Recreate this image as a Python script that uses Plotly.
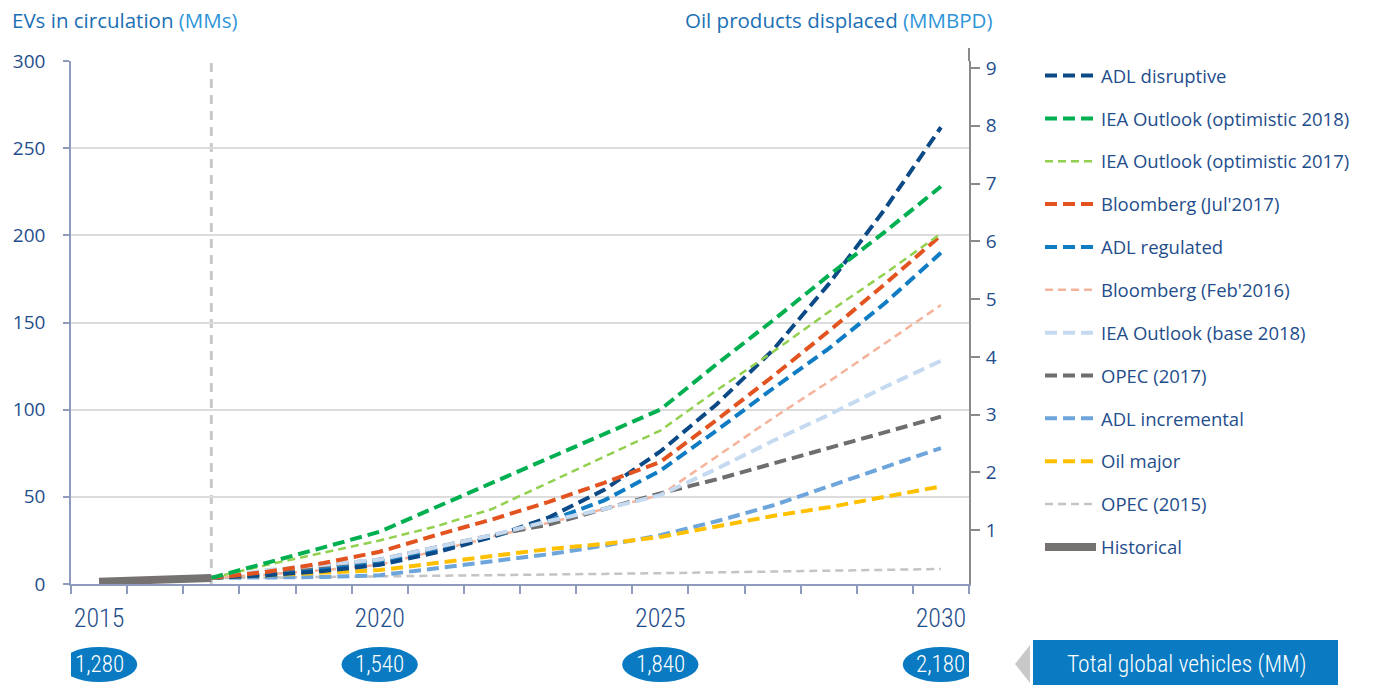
import plotly.graph_objects as go

# ---- data -------------------------------------------------------------
forecast_years = list(range(2017, 2031))

adl_disruptive = [3.5, 5, 7.5, 11, 18, 27, 38, 54, 76, 103, 134, 172, 215, 262]
iea_optimistic_2018 = [3.5, 12, 21, 30, 44, 58, 72, 86, 100, 126, 151, 177, 202, 228]
iea_optimistic_2017 = [3.5, 11, 18, 25, 33, 43, 58, 73, 88, 111, 133, 156, 178, 201]
bloomberg_jul_2017 = [3.5, 7, 12, 18.5, 28, 37, 47, 58, 70, 94, 119, 145, 172, 200]
adl_regulated = [3.5, 6, 9, 13, 19, 27, 36, 48, 65, 88, 112, 135, 161, 190]
bloomberg_feb_2016 = [3.5, 5.5, 8, 11, 19, 27, 35, 43, 51, 73, 95, 116, 138, 160]
iea_base_2018 = [3.5, 8, 11, 14, 21, 28, 36, 43, 51, 66, 82, 97, 113, 128]
opec_2017 = [3.5, 7, 10.5, 14, 21, 28, 34, 43, 52, 60, 69, 78, 87, 96]
adl_incremental = [3.5, 3.5, 4, 5, 9, 13, 17, 22, 28, 36, 45, 56, 67, 78]
oil_major = [3.5, 5, 6.5, 8, 12, 16, 20, 23, 27, 33, 39, 44, 50, 56]
opec_2015 = [3.3, 3.6, 3.9, 4.2, 4.6, 5.0, 5.4, 5.8, 6.2, 6.6, 7.1, 7.6, 8.1, 8.6]

historical_years = [2015, 2016, 2017]
historical = [1.3, 2.3, 3.5]

vehicle_years = [2015, 2020, 2025, 2030]
total_vehicles = [1280, 1540, 1840, 2180]

left_ticks = [0, 50, 100, 150, 200, 250, 300]
right_ticks = [1, 2, 3, 4, 5, 6, 7, 8, 9]
year_labels = [2015, 2020, 2025, 2030]

# ---- styling ----------------------------------------------------------
TEXT_BLUE = "#1f4e8c"
AXIS_BLUE = "#8e9bbd"
NARROW = "Roboto Condensed, Roboto, sans-serif"
BODY = "Open Sans, Noto Sans, sans-serif"
THICK = "12px,6px"
THIN = "8px,5px"

# (name, values, colour, width, dash, legend rank) in drawing order
series = [
    ("OPEC (2015)", opec_2015, "#c4c4c4", 2.5, THIN, 11),
    ("Bloomberg (Feb'2016)", bloomberg_feb_2016, "#f5b39b", 2.5, THIN, 6),
    ("ADL incremental", adl_incremental, "#6ea6dc", 4, THICK, 9),
    ("Oil major", oil_major, "#ffc000", 4, THICK, 10),
    ("ADL regulated", adl_regulated, "#0f7cc4", 4, THICK, 5),
    ("ADL disruptive", adl_disruptive, "#0b4a86", 4, THICK, 1),
    ("OPEC (2017)", opec_2017, "#6f6d6d", 4, THICK, 8),
    ("IEA Outlook (base 2018)", iea_base_2018, "#c5daf0", 4, THICK, 7),
    ("Bloomberg (Jul'2017)", bloomberg_jul_2017, "#e2531f", 4, THICK, 4),
    ("IEA Outlook (optimistic 2017)", iea_optimistic_2017, "#92d050", 2.5, THIN, 3),
    ("IEA Outlook (optimistic 2018)", iea_optimistic_2018, "#00b050", 4, THICK, 2),
]

fig = go.Figure()

for name, values, colour, width, dash, rank in series:
    fig.add_trace(go.Scatter(
        x=forecast_years, y=values, name=name, mode="lines",
        line=dict(color=colour, width=width, dash=dash),
        legendrank=rank, legendgroup=name,
    ))

fig.add_trace(go.Scatter(
    x=historical_years, y=historical, name="Historical", mode="lines",
    line=dict(color="#767272", width=8),
    legendrank=12, legendgroup="Historical",
))

# anchor trace for the right-hand axis
fig.add_trace(go.Scatter(
    x=[None], y=[None], yaxis="y2", showlegend=False, hoverinfo="skip",
))

# ---- geometry helpers (plot area 71..969 x 61..584 px) ----------------
PL, PR, PT, PB = 71, 969, 61, 584


def px_x(px):
    return (px - PL) / (PR - PL)


def px_y(py):
    return (PB - py) / (PB - PT)


shapes = [
    # 2017 divider
    dict(type="line", xref="x", yref="paper", x0=2017, x1=2017, y0=0, y1=1,
         line=dict(color="#c8c8c8", width=3, dash="9px,7px"), layer="below"),
    # right axis stub above the plot area
    dict(type="line", xref="paper", yref="paper", x0=1, x1=1,
         y0=1, y1=px_y(48), line=dict(color="#8a8a8a", width=2)),
    # total vehicles banner
    dict(type="rect", xref="paper", yref="paper",
         x0=px_x(1033), x1=px_x(1338), y0=px_y(640), y1=px_y(685),
         fillcolor="#0a7bc2", line=dict(width=0)),
    dict(type="path", xref="paper", yref="paper",
         path=f"M {px_x(1030)},{px_y(645)} L {px_x(1030)},{px_y(683)} "
              f"L {px_x(1015)},{px_y(664)} Z",
         fillcolor="#c8c8c8", line=dict(width=0)),
]

annotations = [
    dict(xref="paper", yref="paper", x=px_x(10), y=px_y(20),
         xanchor="left", yanchor="middle", showarrow=False,
         text="<span style='color:#1b6fb5'>EVs in circulation </span>"
              "<span style='color:#2e95d8'>(MMs)</span>",
         font=dict(family=BODY, size=20.5)),
    dict(xref="paper", yref="paper", x=px_x(994), y=px_y(20),
         xanchor="right", yanchor="middle", showarrow=False,
         text="<span style='color:#1b6fb5'>Oil products displaced </span>"
              "<span style='color:#2e95d8'>(MMBPD)</span>",
         font=dict(family=BODY, size=20.5)),
    dict(xref="paper", yref="paper", x=px_x(1187), y=px_y(664),
         xanchor="center", yanchor="middle", showarrow=False,
         text="Total global vehicles (MM)",
         font=dict(family=NARROW, size=23.5, weight=300, color="white")),
]

for yr, total in zip(vehicle_years, total_vehicles):
    shapes.append(dict(type="circle", xref="x", yref="paper",
                       x0=yr - 0.68, x1=yr + 0.68,
                       y0=px_y(682), y1=px_y(647),
                       fillcolor="#0a7bc2", line=dict(width=0)))
    annotations.append(dict(xref="x", yref="paper", x=yr, y=px_y(664),
                            xanchor="center", yanchor="middle",
                            showarrow=False, text=f"{total:,}",
                            font=dict(family=NARROW, size=23, weight=300,
                                      color="white")))

fig.update_layout(
    width=1373, height=685,
    margin=dict(l=PL, r=1373 - PR, t=PT, b=685 - PB, pad=0),
    paper_bgcolor="white", plot_bgcolor="white",
    showlegend=True,
    legend=dict(
        x=px_x(1040), y=px_y(57), xanchor="left", yanchor="top",
        font=dict(family=BODY, size=18.5, color=TEXT_BLUE),
        tracegroupgap=15.8, itemwidth=51, bgcolor="rgba(0,0,0,0)",
        traceorder="grouped", maxheight=660,
    ),
    xaxis=dict(
        range=[2014.5, 2030.5], tickvals=year_labels,
        ticktext=[str(y) for y in year_labels], ticks="",
        showline=True, linecolor=AXIS_BLUE, linewidth=1.5,
        showgrid=False, zeroline=False, ticklabelstandoff=10,
        tickfont=dict(family=NARROW, size=26, weight=300, color=TEXT_BLUE),
        minor=dict(tickvals=[2014.5 + i for i in range(17)], ticks="outside",
                   ticklen=8, tickwidth=1.5, tickcolor=AXIS_BLUE,
                   showgrid=False),
    ),
    yaxis=dict(
        range=[0, 300], tickvals=left_ticks,
        showgrid=True, gridcolor="#dcdcdc", gridwidth=1.5,
        showline=True, linecolor=AXIS_BLUE, linewidth=1.5,
        ticks="outside", ticklen=6, tickwidth=1.5, tickcolor=AXIS_BLUE,
        zeroline=False, ticklabelstandoff=14,
        tickfont=dict(family=BODY, size=19, color=TEXT_BLUE),
    ),
    yaxis2=dict(
        overlaying="y", side="right", range=[0.07, 9.12],
        tickvals=right_ticks, ticks="outside", ticklen=9, tickwidth=2,
        tickcolor="#8a8a8a", showline=True, linecolor="#8a8a8a",
        linewidth=2, showgrid=False, zeroline=False, ticklabelstandoff=2,
        tickfont=dict(family=BODY, size=19, color=TEXT_BLUE),
    ),
    shapes=shapes,
    annotations=annotations,
)

fig.write_html("out.html")
